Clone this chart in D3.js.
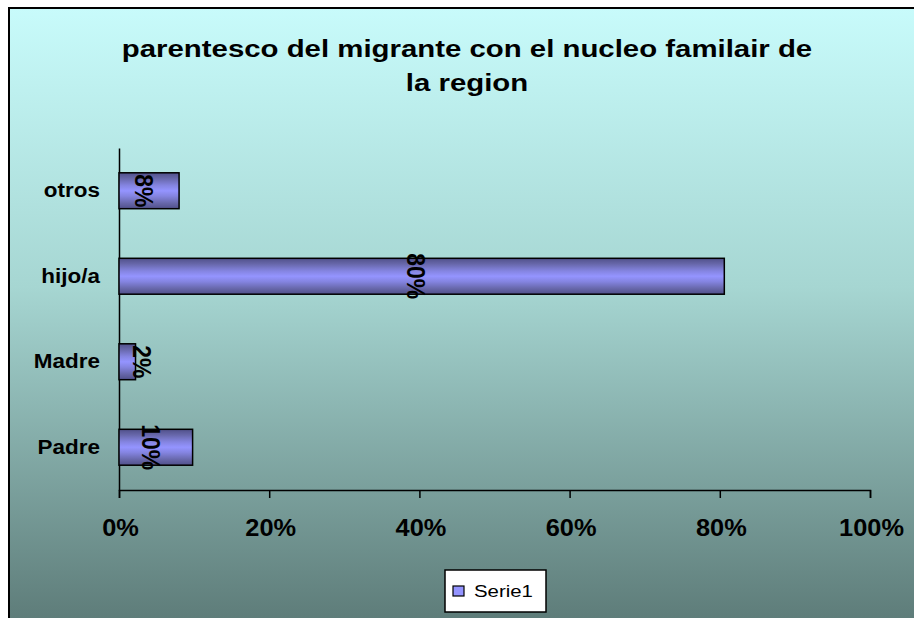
<!DOCTYPE html>
<html>
<head>
<meta charset="utf-8">
<script src="https://cdn.jsdelivr.net/npm/d3@7"></script>
<style>
  body { margin: 0; background: #fff; }
  svg { display: block; font-family: Arial, "Liberation Sans", sans-serif; }
</style>
</head>
<body>
<svg id="chart" width="914" height="618"></svg>
<script>
const categories = ['Padre', 'Madre', 'hijo/a', 'otros'];
const values = [9.8, 2.2, 80.6, 8];
const valueLabels = ['10%', '2%', '80%', '8%'];
const xTicks = [0, 20, 40, 60, 80, 100];
const titleLines = ['parentesco del migrante con el nucleo familair de', 'la region'];
const seriesName = 'Serie1';

const fontFamily = 'Arial, "Liberation Sans", sans-serif';

const svg = d3.select('#chart');
const defs = svg.append('defs');

const bg = defs.append('linearGradient')
  .attr('id', 'bg').attr('x1', 0).attr('y1', 0).attr('x2', 0).attr('y2', 1);
bg.append('stop').attr('offset', '0%').attr('stop-color', '#c8fbfb');
bg.append('stop').attr('offset', '45%').attr('stop-color', '#a6d6d2');
bg.append('stop').attr('offset', '100%').attr('stop-color', '#5c7a77');

// striped bar shading: dark edges, light middle
const barGrad = defs.append('linearGradient')
  .attr('id', 'bar').attr('x1', 0).attr('y1', 0).attr('x2', 0).attr('y2', 1);
[['0%', '#50508a'], ['15%', '#6666a8'], ['35%', '#8484e0'], ['50%', '#9494ff'],
 ['65%', '#8484e0'], ['85%', '#6666a8'], ['100%', '#50508a']]
  .forEach(([o, c]) => barGrad.append('stop').attr('offset', o).attr('stop-color', c));

svg.append('rect')
  .attr('x', 9).attr('y', 8)
  .attr('width', 920).attr('height', 620)
  .attr('fill', 'url(#bg)')
  .attr('stroke', '#000').attr('stroke-width', 2);

// text in the original is drawn wide, so stretch it horizontally
svg.append('text')
  .attr('transform', 'translate(467,0) scale(1.25,1)')
  .attr('text-anchor', 'middle')
  .attr('font-size', 23.5).attr('font-weight', 'bold')
  .selectAll('tspan')
  .data(titleLines)
  .join('tspan')
  .attr('x', 0)
  .attr('y', (d, i) => 57 + i * 34)
  .text(d => d);

const x = d3.scaleLinear().domain([0, 100]).range([119, 870]);
const y = d3.scaleBand().domain(categories).range([490, 148]).paddingInner(0.58).paddingOuter(0.29);

const xAxis = svg.append('g')
  .attr('transform', 'translate(0,490)')
  .call(d3.axisBottom(x).tickValues(xTicks).tickSize(8).tickFormat(d => d + '%'));
xAxis.select('.domain').attr('stroke', '#000').attr('stroke-width', 1.5);
xAxis.selectAll('.tick line').attr('stroke', '#000').attr('stroke-width', 1.5);
xAxis.selectAll('.tick text')
  .attr('y', 46).attr('dy', null)
  .attr('transform', 'translate(1,0) scale(1.08,1)')
  .attr('font-size', 23.5).attr('font-weight', 'bold').attr('fill', '#000')
  .attr('font-family', fontFamily);

const yAxis = svg.append('g')
  .attr('transform', 'translate(119,0)')
  .call(d3.axisLeft(y).tickSize(0));
yAxis.select('.domain').attr('stroke', '#000').attr('stroke-width', 1.5);
yAxis.selectAll('.tick text')
  .attr('x', 0).attr('dy', '0.3em')
  .attr('transform', 'translate(-19,0) scale(1.07,1)')
  .attr('font-size', 21).attr('font-weight', 'bold').attr('fill', '#000')
  .attr('font-family', fontFamily);

svg.append('g')
  .selectAll('rect')
  .data(values)
  .join('rect')
  .attr('x', x(0))
  .attr('y', (d, i) => y(categories[i]))
  .attr('width', d => x(d) - x(0))
  .attr('height', y.bandwidth())
  .attr('fill', 'url(#bar)')
  .attr('stroke', '#000').attr('stroke-width', 1.5);

svg.append('g')
  .selectAll('text')
  .data(values)
  .join('text')
  .attr('transform', (d, i) => {
    const cx = (x(0) + x(d)) / 2 - 5;
    const cy = y(categories[i]) + y.bandwidth() / 2;
    return `translate(${Math.max(cx, 142)},${cy}) scale(1.15,1) rotate(90)`;
  })
  .attr('text-anchor', 'middle')
  .attr('dy', '0.35em')
  .attr('font-size', 23).attr('font-weight', 'bold')
  .text((d, i) => valueLabels[i]);

const legend = svg.append('g').attr('transform', 'translate(445,570)');
legend.append('rect')
  .attr('width', 101).attr('height', 42)
  .attr('fill', '#fff').attr('stroke', '#000').attr('stroke-width', 1.5);
legend.append('rect')
  .attr('x', 8).attr('y', 16).attr('width', 11).attr('height', 10)
  .attr('fill', '#9494ff').attr('stroke', '#000').attr('stroke-width', 1.2);
legend.append('text')
  .attr('transform', 'translate(29,27) scale(1.2,1)')
  .attr('font-size', 17)
  .text(seriesName);
</script>
</body>
</html>
